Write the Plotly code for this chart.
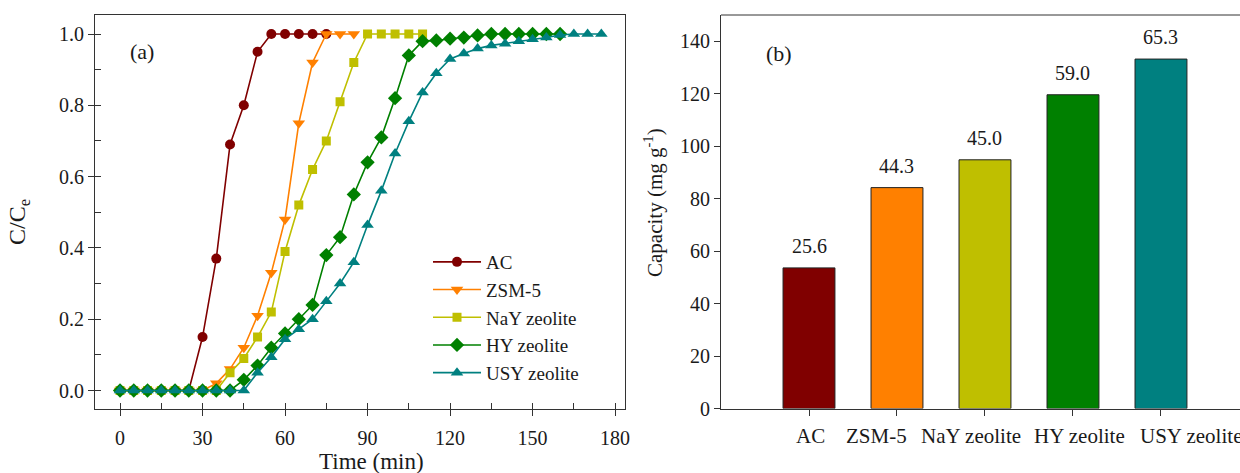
import plotly.graph_objects as go

# ---------------- data ----------------
series_names = ["AC", "ZSM-5", "NaY zeolite", "HY zeolite", "USY zeolite"]
line_colors = ["#800000", "#FF8000", "#BFBF00", "#008000", "#008080"]
marker_symbols = ["circle", "triangle-down", "square", "diamond", "triangle-up"]

time_ac = [0, 5, 10, 15, 20, 25, 30, 35, 40, 45, 50, 55, 60, 65, 70, 75]
c_ac = [0, 0, 0, 0, 0, 0, 0.15, 0.37, 0.69, 0.80, 0.95, 1.0, 1.0, 1.0, 1.0, 1.0]

time_zsm = [0, 5, 10, 15, 20, 25, 30, 35, 40, 45, 50, 55, 60, 65, 70, 75, 80, 85]
c_zsm = [0, 0, 0, 0, 0, 0, 0, 0.02, 0.06, 0.12, 0.21, 0.33, 0.48, 0.75, 0.92, 1.0, 1.0, 1.0]

time_nay = [0, 5, 10, 15, 20, 25, 30, 35, 40, 45, 50, 55, 60, 65, 70, 75, 80, 85,
            90, 95, 100, 105, 110]
c_nay = [0, 0, 0, 0, 0, 0, 0, 0, 0.05, 0.09, 0.15, 0.22, 0.39, 0.52, 0.62, 0.70, 0.81, 0.92,
         1.0, 1.0, 1.0, 1.0, 1.0]

time_hy = [0, 5, 10, 15, 20, 25, 30, 35, 40, 45, 50, 55, 60, 65, 70, 75, 80, 85, 90, 95,
           100, 105, 110, 115, 120, 125, 130, 135, 140, 145, 150, 155, 160]
c_hy = [0, 0, 0, 0, 0, 0, 0, 0, 0, 0.03, 0.07, 0.12, 0.16, 0.20, 0.24, 0.38, 0.43, 0.55,
        0.64, 0.71, 0.82, 0.94, 0.98, 0.982, 0.987, 0.99, 0.996, 1.0, 1.0, 1.0, 1.0, 1.0, 1.0]

time_usy = [0, 5, 10, 15, 20, 25, 30, 35, 40, 45, 50, 55, 60, 65, 70, 75, 80, 85, 90, 95,
            100, 105, 110, 115, 120, 125, 130, 135, 140, 145, 150, 155, 160, 165, 170, 175]
c_usy = [0, 0, 0, 0, 0, 0, 0, 0, 0, 0, 0.05, 0.093, 0.144, 0.172, 0.20, 0.25, 0.30, 0.36,
         0.464, 0.56, 0.665, 0.755, 0.836, 0.89, 0.93, 0.945, 0.959, 0.968, 0.973, 0.98,
         0.985, 0.99, 0.997, 1.0, 1.0, 1.0]

bar_categories = ["AC", "ZSM-5", "NaY zeolite", "HY zeolite", "USY zeolite"]
bar_capacity = [53.6, 84.2, 94.8, 119.6, 133.2]
bar_labels = ["25.6", "44.3", "45.0", "59.0", "65.3"]
bar_colors = ["#800000", "#FF8000", "#BFBF00", "#008000", "#008080"]

x_ticks = [0, 30, 60, 90, 120, 150, 180]
y_ticks = [0.0, 0.2, 0.4, 0.6, 0.8, 1.0]
y2_ticks = [0, 20, 40, 60, 80, 100, 120, 140]

# ---------------- figure ----------------
W, H = 1240, 473
FONT = "Liberation Serif"
TXT = "#1a1a1a"
AX = "#333333"
# horizontal nudges of the category labels (the source spaces them evenly, not centred on ticks)
cat_label_shift = [1, -20, -14, 7, 30]


def px(x):
    return x / W


def py(y):
    return 1 - y / H


fig = go.Figure()

times = [time_ac, time_zsm, time_nay, time_hy, time_usy]
concs = [c_ac, c_zsm, c_nay, c_hy, c_usy]
msizes = [10, 11, 9, 11, 11]
for name, t, c, col, sym, ms in zip(series_names, times, concs, line_colors, marker_symbols, msizes):
    fig.add_trace(go.Scatter(
        x=t, y=c, mode="lines+markers", name=name,
        line=dict(color=col, width=1.6),
        marker=dict(symbol=sym, size=ms, color=col, line=dict(width=0)),
        xaxis="x", yaxis="y",
    ))

fig.add_trace(go.Bar(
    x=bar_categories, y=bar_capacity, width=0.59,
    marker=dict(color=bar_colors, line=dict(color="#222222", width=1)),
    showlegend=False, xaxis="x2", yaxis="y2",
))

for cat, val, lab in zip(bar_categories, bar_capacity, bar_labels):
    fig.add_annotation(x=cat, y=val, xref="x2", yref="y2", text=lab, showarrow=False,
                       xanchor="center", yanchor="bottom", yshift=9,
                       font=dict(size=20, color=TXT, family=FONT))

for cat, dx in zip(bar_categories, cat_label_shift):
    fig.add_annotation(x=cat, y=py(436), xref="x2", yref="paper", text=cat, showarrow=False,
                       xanchor="center", yanchor="middle", xshift=dx,
                       font=dict(size=21, color=TXT, family=FONT))

ydom = [py(408.5), py(15)]
axis_common = dict(showline=True, linecolor=AX, linewidth=1, ticks="outside", ticklen=6,
                   tickcolor=AX, showgrid=False, zeroline=False, automargin=False,
                   tickfont=dict(size=20, family=FONT, color=TXT))

fig.update_layout(
    template="none",
    width=W, height=H,
    margin=dict(l=0, r=0, t=0, b=0, autoexpand=False),
    paper_bgcolor="white", plot_bgcolor="white",
    font=dict(family=FONT, size=20, color=TXT),
    xaxis=dict(
        domain=[px(95), px(625)], range=[-9.1, 183.6], tickvals=x_ticks, mirror=True,
        minor=dict(dtick=15, tick0=0, ticks="inside", ticklen=6, tickcolor=AX, showgrid=False),
        anchor="y", ticklabelstandoff=5, **axis_common,
    ),
    yaxis=dict(
        domain=ydom, range=[-0.0505, 1.0533], tickvals=y_ticks, tickformat=".1f", mirror=True,
        minor=dict(dtick=0.1, tick0=0, ticks="inside", ticklen=6, tickcolor=AX, showgrid=False),
        anchor="x", **axis_common,
    ),
    xaxis2=dict(
        domain=[px(721), 1.0], range=[-1, 4.898], type="category", mirror=False,
        showticklabels=False, anchor="y2", **axis_common,
    ),
    yaxis2=dict(
        domain=ydom, range=[0, 150], tickvals=y2_ticks, mirror=False,
        anchor="x2", **axis_common,
    ),
    legend=dict(
        x=px(428), y=py(243), xanchor="left", yanchor="top",
        bgcolor="rgba(0,0,0,0)", font=dict(size=19, family=FONT, color=TXT),
        itemwidth=48, tracegroupgap=0,
    ),
    showlegend=True,
)

# top border of the right panel
fig.add_shape(type="line", xref="x2 domain", yref="y2 domain", x0=0, x1=1, y0=1, y1=1,
              line=dict(color=AX, width=1))

# panel labels and axis titles
ann_font = dict(family=FONT, color=TXT)
fig.add_annotation(x=px(142), y=py(51), xref="paper", yref="paper", text="(a)", showarrow=False,
                   xanchor="center", yanchor="middle", font=dict(size=22, **ann_font))
fig.add_annotation(x=px(779), y=py(53), xref="paper", yref="paper", text="(b)", showarrow=False,
                   xanchor="center", yanchor="middle", font=dict(size=22, **ann_font))
fig.add_annotation(x=px(371), y=py(461), xref="paper", yref="paper", text="Time (min)", showarrow=False,
                   xanchor="center", yanchor="middle", font=dict(size=23, **ann_font))
fig.add_annotation(x=px(19), y=py(222), xref="paper", yref="paper", text="C/C<sub>e</sub>", showarrow=False,
                   xanchor="center", yanchor="middle", textangle=-90, font=dict(size=24, **ann_font))
fig.add_annotation(x=px(653), y=py(203), xref="paper", yref="paper", text="Capacity (mg g<sup>-1</sup>)",
                   xanchor="center", yanchor="middle", showarrow=False, textangle=-90,
                   font=dict(size=21, **ann_font))

fig.write_html("out.html", config={"displayModeBar": False},
               post_script="document.body.style.margin='0';")
